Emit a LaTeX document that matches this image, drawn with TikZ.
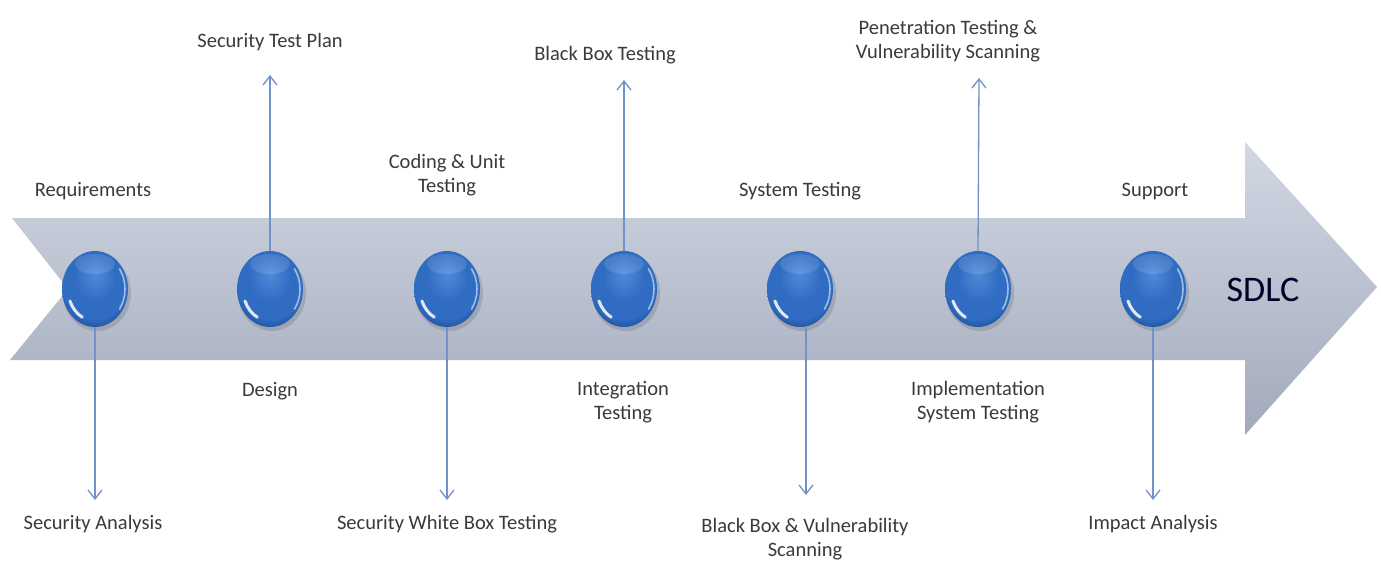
\documentclass[tikz,border=0pt]{standalone}
\usepackage{fontspec}
\setmainfont{Carlito}
\usetikzlibrary{arrows.meta,shapes.geometric}
\definecolor{txt}{HTML}{3A3A3A}
\definecolor{conncol}{HTML}{6F93C6}
\definecolor{bandtop}{HTML}{D2D7E3}
\definecolor{bandbot}{HTML}{A2AABB}
\definecolor{ballc}{HTML}{4F8AD8}
\definecolor{ballm}{HTML}{2F6CC2}
\definecolor{balle}{HTML}{1D4F98}
\pgfdeclareradialshading{sphshade}{\pgfpoint{0bp}{10bp}}{%
  color(0bp)=(ballc); color(16bp)=(ballm); color(25bp)=(ballm); color(31bp)=(balle); color(50bp)=(balle)}
\tikzset{
  lbl/.style={text=txt, font=\fontsize{20.5}{24}\selectfont, align=center, inner sep=1pt},
  ball/.style={ellipse, minimum width=66, minimum height=76, inner sep=0pt, shading=sphshade},
  conn/.style={draw=conncol, line width=1.3, -{Straight Barb[length=9,width=14]}},
}
\begin{document}
\begin{tikzpicture}[x=1pt,y=-1pt]
\useasboundingbox (0,0) rectangle (1381,562);
\fill[white] (0,0) rectangle (1381,562);
% big arrow
\shade[top color=bandtop, bottom color=bandbot]
  (12,218) -- (1245,218) -- (1245,142) -- (1377,287) -- (1245,435) -- (1245,360) -- (10,360) -- (68,289) -- cycle;
\draw[white, line width=1.5, opacity=0.9] (14,216) -- (1245,216);
\draw[white, line width=1.5, opacity=0.7] (10,362) -- (1245,362);
% balls
\foreach \n/\x in {1/95,2/270,3/447,4/624,5/800,6/978,7/1153}{
  \fill[black, opacity=0.12] (\x+2,293) ellipse (34 and 38);
  \node[ball] (b\n) at (\x,289) {};
  \fill[white, opacity=0.12] (\x,264) ellipse (20 and 10);
  \draw[white, line width=3, opacity=0.85, line cap=round] (\x,289) ++(118:27 and 32) arc (118:158:27 and 32);
  \draw[white, line width=1.6, opacity=0.55, line cap=round] (\x,289) ++(-35:30 and 35) arc (-35:35:30 and 35);
}
% end coordinates
\coordinate (e1) at (95,500);
\coordinate (e2) at (270,75);
\coordinate (e3) at (447,500);
\coordinate (e4) at (624,80);
\coordinate (e5) at (806,495);
\coordinate (e6) at (979,78);
\coordinate (e7) at (1153,500);
\draw[conn] (b1.south) -- (e1);
\draw[conn] (b2.north) -- (e2);
\draw[conn] (b3.south) -- (e3);
\draw[conn] (b4.north) -- (e4);
\draw[conn] ([xshift=6]b5.south) -- (e5);
\draw[conn] (b6.north) -- (e6);
\draw[conn] (b7.south) -- (e7);
% labels
\node[lbl] (l1) at (93,191) {Requirements};
\node[lbl] (l2) at (270,42) {Security Test Plan};
\node[lbl] (l3) at (270,391) {Design};
\node[lbl] (l4) at (447,175) {Coding \& Unit\\Testing};
\node[lbl] (l5) at (447,524) {Security White Box Testing};
\node[lbl] (l6) at (93,524) {Security Analysis};
\node[lbl] (l7) at (605,55) {Black Box Testing};
\node[lbl] (l8) at (623,402) {Integration\\Testing};
\node[lbl] (l9) at (800,191) {System Testing};
\node[lbl] (l10) at (805,539) {Black Box \& Vulnerability\\Scanning};
\node[lbl] (l11) at (948,41) {Penetration Testing \&\\Vulnerability Scanning};
\node[lbl] (l12) at (978,402) {Implementation\\System Testing};
\node[lbl] (l13) at (1155,191) {Support};
\node[lbl] (l14) at (1153,524) {Impact Analysis};
\node[text=black!85!blue, font=\fontsize{36}{40}\selectfont, inner sep=0pt] (sdlc) at (1263,290) {SDLC};
\end{tikzpicture}
\end{document}
